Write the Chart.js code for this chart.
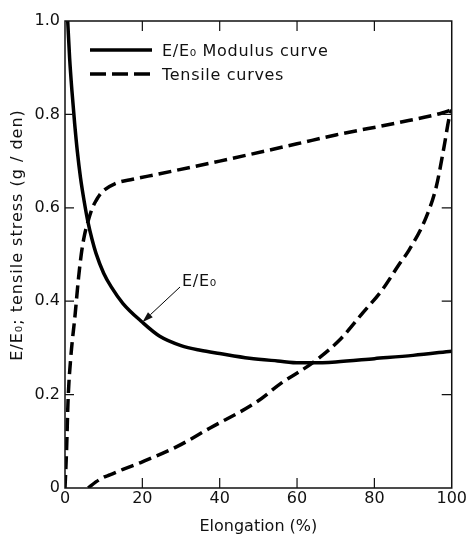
<!DOCTYPE html>
<html>
<head>
<meta charset="utf-8">
<script src="https://cdn.jsdelivr.net/npm/chart.js@4/dist/chart.umd.min.js"></script>
<style>
html,body{margin:0;padding:0;background:#fff;}
canvas{display:block;}
</style>
</head>
<body>
<canvas id="c" width="468" height="536"></canvas>
<script>
// ---- data ----
const modulusX = [0.7, 1.2, 1.8, 2.5, 3.2, 4, 5, 6, 7, 8, 10, 12, 15, 20, 24.5, 30, 35, 40, 47.7, 55, 60.6, 64, 70, 80, 90, 100];
const modulusY = [1.0, 0.92, 0.85, 0.78, 0.72, 0.665, 0.612, 0.567, 0.532, 0.503, 0.46, 0.43, 0.395, 0.355, 0.325, 0.305, 0.295, 0.288, 0.278, 0.272, 0.268, 0.268, 0.27, 0.277, 0.284, 0.293];

const tensileUpperX = [0, 0.4, 0.8, 1.5, 2.6, 3.5, 4.2, 5, 6, 7, 8, 9, 10, 13, 17.5, 24, 40, 60, 70, 86, 97.5, 100];
const tensileUpperY = [0, 0.08, 0.19, 0.28, 0.37, 0.45, 0.5, 0.54, 0.572, 0.598, 0.615, 0.628, 0.637, 0.652, 0.661, 0.672, 0.70, 0.737, 0.756, 0.782, 0.803, 0.81];

const tensileLowerX = [6, 8, 10, 11.6, 15, 20, 28.8, 37.4, 49.5, 56, 64, 71, 77, 82, 86.5, 89, 93.4, 96, 98, 99.4, 100];
const tensileLowerY = [0, 0.013, 0.023, 0.028, 0.04, 0.056, 0.088, 0.128, 0.184, 0.225, 0.268, 0.317, 0.375, 0.424, 0.48, 0.51, 0.58, 0.645, 0.73, 0.795, 0.81];

const xTicks = [0, 20, 40, 60, 80, 100];
const yTicks = [0, 0.2, 0.4, 0.6, 0.8, 1.0];

const legendLabels = ['E/E\u2080 Modulus curve', 'Tensile curves'];
const annotationText = 'E/E\u2080';
const annotationPoint = {x: 20, y: 0.355};
const xTitle = 'Elongation (%)';
const yTitle = 'E/E\u2080; tensile stress (g / den)';

// ---- chart ----
const FONT = '"DejaVu Sans", sans-serif';
const INK = '#111';
const pts = (xs, ys) => xs.map((x, i) => ({x, y: ys[i]}));

const lineBase = {
  borderColor: '#000', borderWidth: 3.5, pointRadius: 0, fill: false,
  cubicInterpolationMode: 'monotone', borderCapStyle: 'butt'
};

const decor = {
  id: 'decor',
  afterDraw(chart) {
    const {ctx, chartArea: a, scales: {x, y}} = chart;
    ctx.save();
    // frame
    ctx.strokeStyle = INK; ctx.lineWidth = 1.5;
    ctx.strokeRect(a.left, a.top, a.right - a.left, a.bottom - a.top);
    // inward ticks
    ctx.lineWidth = 1.2;
    ctx.beginPath();
    xTicks.slice(1, -1).forEach(v => {
      const px = x.getPixelForValue(v);
      ctx.moveTo(px, a.bottom); ctx.lineTo(px, a.bottom - 10);
      ctx.moveTo(px, a.top); ctx.lineTo(px, a.top + 10);
    });
    yTicks.slice(1, -1).forEach(v => {
      const py = y.getPixelForValue(v);
      ctx.moveTo(a.left, py); ctx.lineTo(a.left + 9, py);
      ctx.moveTo(a.right, py); ctx.lineTo(a.right - 10, py);
    });
    ctx.stroke();

    // legend
    ctx.font = '16px ' + FONT;
    ctx.fillStyle = INK; ctx.textBaseline = 'middle'; ctx.textAlign = 'left';
    ctx.strokeStyle = '#000'; ctx.lineWidth = 3.5; ctx.lineCap = 'butt';
    ctx.beginPath(); ctx.moveTo(90, 50); ctx.lineTo(152, 50); ctx.stroke();
    ctx.setLineDash([16, 6]);
    ctx.beginPath(); ctx.moveTo(90, 74); ctx.lineTo(152, 74); ctx.stroke();
    ctx.setLineDash([]);
    ctx.letterSpacing = '0.7px';
    ctx.fillText(legendLabels[0], 162, 52);
    ctx.fillText(legendLabels[1], 162, 76);

    // annotation with arrow
    const tx = x.getPixelForValue(annotationPoint.x);
    const ty = y.getPixelForValue(annotationPoint.y);
    const sx = 180, sy = 287;
    ctx.fillText(annotationText, 182, 282);
    ctx.letterSpacing = '0px';
    ctx.lineWidth = 1;
    const ang = Math.atan2(ty - sy, tx - sx);
    const hx = tx - 11 * Math.cos(ang), hy = ty - 11 * Math.sin(ang);
    ctx.beginPath(); ctx.moveTo(sx, sy); ctx.lineTo(hx, hy); ctx.stroke();
    ctx.beginPath();
    ctx.moveTo(tx, ty);
    ctx.lineTo(hx + 3.5 * Math.sin(ang), hy - 3.5 * Math.cos(ang));
    ctx.lineTo(hx - 3.5 * Math.sin(ang), hy + 3.5 * Math.cos(ang));
    ctx.closePath(); ctx.fill();

    // y title
    ctx.translate(18, 235);
    ctx.rotate(-Math.PI / 2);
    ctx.textAlign = 'center';
    ctx.letterSpacing = '1px';
    ctx.fillText(yTitle, 0, 0);
    ctx.restore();
  }
};

new Chart(document.getElementById('c'), {
  type: 'line',
  data: {
    datasets: [
      Object.assign({label: legendLabels[0], data: pts(modulusX, modulusY)}, lineBase),
      Object.assign({label: legendLabels[1], data: pts(tensileUpperX, tensileUpperY), borderDash: [13, 6]}, lineBase),
      Object.assign({label: legendLabels[1] + ' (2)', data: pts(tensileLowerX, tensileLowerY), borderDash: [13, 6]}, lineBase)
    ]
  },
  options: {
    responsive: false, animation: false, devicePixelRatio: 1,
    layout: {padding: {left: 0, top: 21, right: 16, bottom: 0}},
    plugins: {legend: {display: false}, tooltip: {enabled: false}},
    scales: {
      x: {
        type: 'linear', min: 0, max: 100,
        afterBuildTicks: s => { s.ticks = xTicks.map(v => ({value: v})); },
        afterFit: s => { s.height = 48; },
        grid: {display: false, drawTicks: false},
        border: {display: false},
        ticks: {font: {family: FONT, size: 16}, color: INK, padding: 1, maxRotation: 0},
        title: {display: true, text: xTitle, font: {family: FONT, size: 16}, color: INK, padding: {top: 0, bottom: 0}}
      },
      y: {
        type: 'linear', min: 0, max: 1,
        afterBuildTicks: s => { s.ticks = yTicks.map(v => ({value: v})); },
        afterFit: s => { s.width = 65; },
        grid: {display: false, drawTicks: false},
        border: {display: false},
        ticks: {font: {family: FONT, size: 16}, color: INK, padding: 5,
                callback: v => v === 0 ? '0' : v.toFixed(1)}
      }
    }
  },
  plugins: [decor]
});
</script>
</body>
</html>
